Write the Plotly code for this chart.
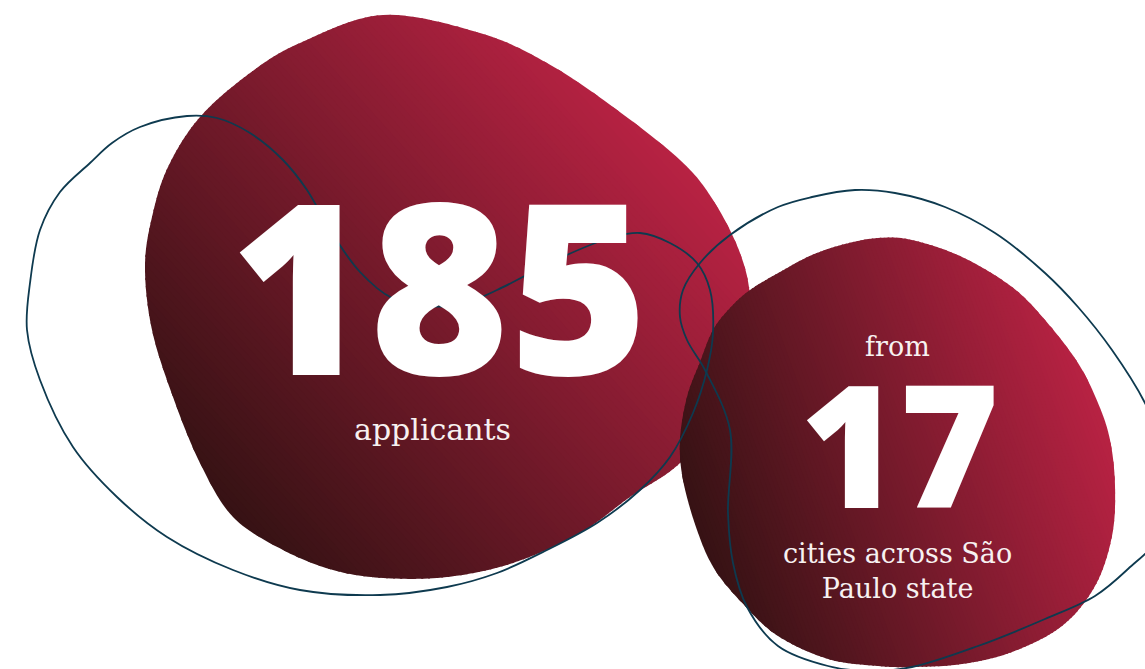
import math
import plotly.graph_objects as go

# ---------------- data ----------------
values = [185, 17]
pre_labels = ["", "from"]
post_labels = ["applicants", "cities across São<br>Paulo state"]

# ---------------- decorative geometry (pixel space) ----------------
W, H = 1145, 669

big_blob = [(383, 15), (480, 33), (547, 63), (613, 107), (680, 160), (713, 200), (740, 253),
            (750, 300), (745, 360), (720, 410), (680, 463), (630, 497), (580, 533), (513, 563),
            (447, 577), (383, 578), (333, 570), (283, 550), (233, 517), (200, 463), (173, 397),
            (152, 330), (145, 267), (152, 217), (168, 167), (200, 117), (250, 73), (300, 43)]

small_blob = [(878, 238), (912, 240), (962, 257), (1012, 287), (1045, 320), (1078, 363),
              (1098, 403), (1110, 440), (1115, 486), (1112, 536), (1095, 586), (1062, 626),
              (1012, 652), (962, 664), (912, 667), (878, 666), (828, 659), (778, 636),
              (745, 606), (715, 570), (697, 530), (683, 480), (680, 440), (687, 397),
              (700, 362), (713, 330), (730, 308), (750, 290), (780, 272), (812, 255), (845, 244)]

loop1 = [(27, 330), (30, 283), (40, 230), (60, 192), (90, 163), (112, 143), (140, 127),
         (187, 116), (217, 118), (250, 133), (283, 160), (307, 190), (330, 230), (360, 272),
         (392, 298), (430, 306), (460, 305), (497, 290), (560, 258), (613, 237), (640, 233),
         (670, 243), (697, 263), (710, 290), (713, 333), (707, 370), (693, 413), (670, 457),
         (640, 490), (597, 523), (547, 550), (497, 573), (447, 587), (380, 595), (300, 590),
         (233, 570), (167, 537), (117, 497), (73, 447), (40, 380), (27, 330)]

loop2 = [(730, 430), (705, 370), (687, 340), (680, 317), (683, 290), (700, 263), (730, 235),
         (778, 207), (812, 197), (855, 190), (895, 193), (945, 207), (995, 233), (1045, 273),
         (1078, 307), (1112, 350), (1145, 403), (1172, 470), (1160, 535), (1128, 569),
         (1095, 596), (1045, 619), (978, 646), (912, 667), (870, 671), (828, 666), (778, 646),
         (747, 607), (733, 563), (728, 513), (730, 430)]


def catmull_closed(pts, n=14):
    out = []
    m = len(pts)
    for i in range(m):
        p0, p1, p2, p3 = pts[i - 1], pts[i], pts[(i + 1) % m], pts[(i + 2) % m]
        for k in range(n):
            t = k / n
            t2, t3 = t * t, t * t * t
            x = 0.5 * (2 * p1[0] + (-p0[0] + p2[0]) * t + (2 * p0[0] - 5 * p1[0] + 4 * p2[0] - p3[0]) * t2
                       + (-p0[0] + 3 * p1[0] - 3 * p2[0] + p3[0]) * t3)
            y = 0.5 * (2 * p1[1] + (-p0[1] + p2[1]) * t + (2 * p0[1] - 5 * p1[1] + 4 * p2[1] - p3[1]) * t2
                       + (-p0[1] + 3 * p1[1] - 3 * p2[1] + p3[1]) * t3)
            out.append((x, y))
    return out


def clip(poly, f):
    out = []
    n = len(poly)
    for i in range(n):
        cur, prev = poly[i], poly[i - 1]
        fc, fp = f(cur), f(prev)
        if fc >= 0:
            if fp < 0:
                t = fp / (fp - fc)
                out.append((prev[0] + t * (cur[0] - prev[0]), prev[1] + t * (cur[1] - prev[1])))
            out.append(cur)
        elif fp >= 0:
            t = fp / (fp - fc)
            out.append((prev[0] + t * (cur[0] - prev[0]), prev[1] + t * (cur[1] - prev[1])))
    return out


def hex2rgb(h):
    h = h.lstrip('#')
    return tuple(int(h[i:i + 2], 16) for i in (0, 2, 4))


def lerp_col(c1, c2, t):
    a, b = hex2rgb(c1), hex2rgb(c2)
    return 'rgb(%d,%d,%d)' % tuple(round(a[i] + (b[i] - a[i]) * t) for i in range(3))


def gradient_shapes(pts, angle_deg, c_dark, c_light, n=110, overlap=1.5):
    poly = catmull_closed(pts)
    a = math.radians(angle_deg)
    dx, dy = math.cos(a), -math.sin(a)  # y axis points down in pixel space
    proj = [p[0] * dx + p[1] * dy for p in poly]
    pmin, pmax = min(proj), max(proj)
    step = (pmax - pmin) / n
    shapes = []
    for i in range(n):
        lo = pmin + i * step
        hi = pmin + (i + 1) * step + overlap
        piece = clip(poly, lambda p: p[0] * dx + p[1] * dy - lo)
        if len(piece) < 3:
            continue
        piece = clip(piece, lambda p: hi - (p[0] * dx + p[1] * dy))
        if len(piece) < 3:
            continue
        path = 'M ' + ' L '.join('%.2f,%.2f' % p for p in piece) + ' Z'
        col = lerp_col(c_dark, c_light, (i + 0.5) / n)
        shapes.append(dict(type='path', path=path, xref='x', yref='y', fillcolor=col,
                           line=dict(width=0), layer='below'))
    return shapes


shapes = []
shapes += gradient_shapes(big_blob, 42, '#361214', '#b82243')
shapes += gradient_shapes(small_blob, 20, '#361214', '#b82243')

fig = go.Figure()
line_col = '#0e3a4f'
for lp in (loop1, loop2):
    fig.add_trace(go.Scatter(x=[p[0] for p in lp], y=[p[1] for p in lp], mode='lines',
                             line=dict(color=line_col, width=1.8, shape='spline', smoothing=1.0),
                             hoverinfo='skip', showlegend=False, cliponaxis=True))

num_font = dict(family='Open Sans', color='white', weight=800)
txt_font = dict(family='DejaVu Serif', color='#f7f1f1', size=27)

annotations = [
    dict(x=439, y=283, text=str(values[0]), font=dict(num_font, size=238)),
    dict(x=432, y=429, text=post_labels[0], font=dict(txt_font, size=30)),
    dict(x=897, y=346, text=pre_labels[1], font=txt_font),
    dict(x=899, y=442, text=str(values[1]), font=dict(num_font, size=170)),
    dict(x=897, y=571, text=post_labels[1], font=txt_font, align='center'),
]
for a in annotations:
    a.update(xref='x', yref='y', showarrow=False, xanchor='center', yanchor='middle')

fig.update_layout(
    width=W, height=H, margin=dict(l=0, r=0, t=0, b=0),
    paper_bgcolor='white', plot_bgcolor='white',
    xaxis=dict(range=[0, W], visible=False, fixedrange=True),
    yaxis=dict(range=[H, 0], visible=False, fixedrange=True),
    shapes=shapes, annotations=annotations, showlegend=False,
)

fig.write_html('out.html', config={'displayModeBar': False},
               post_script="document.body.style.margin='0';document.body.style.overflow='hidden';")
